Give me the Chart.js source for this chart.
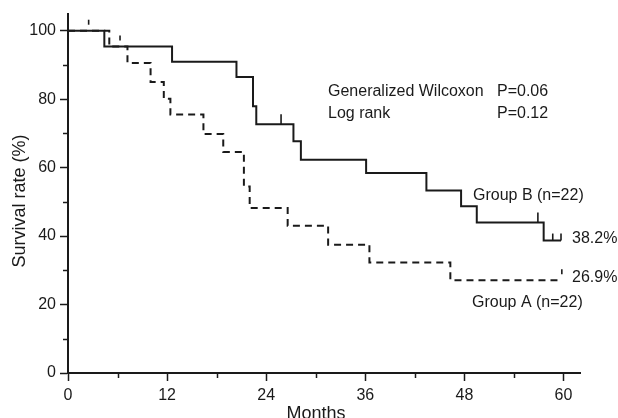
<!DOCTYPE html>
<html>
<head>
<meta charset="utf-8">
<script src="https://cdn.jsdelivr.net/npm/chart.js@4/dist/chart.umd.min.js"></script>
<style>
  html, body { margin: 0; padding: 0; background: #fff; }
  #wrap { width: 618px; height: 418px; }
</style>
</head>
<body>
<div id="wrap"><canvas id="c" width="618" height="418"></canvas></div>
<script>
// ---- Data ----
const groupBTimes = [0, 4.4, 12.6, 20.4, 22.4, 22.8, 27.3, 28.2, 36.1, 43.4, 47.6, 49.5, 57.6, 59.7];
const groupBSurv  = [100, 95.4, 90.9, 86.5, 77.9, 72.7, 67.7, 62.3, 58.4, 53.3, 48.7, 44.0, 38.7, 38.7];
const groupATimes = [0, 5.0, 7.2, 10.0, 11.6, 12.4, 16.4, 18.8, 21.3, 22.0, 26.6, 31.5, 36.5, 46.3, 59.8];
const groupASurv  = [100, 95.4, 90.6, 85.0, 80.1, 75.5, 69.8, 64.6, 54.5, 48.2, 43.0, 37.5, 32.3, 27.1, 27.1];
const censorBTimes = [25.8, 56.9, 58.7, 59.7];
const censorBSurv  = [72.7, 44.0, 38.7, 38.7];
const censorATimes = [2.5, 6.3, 59.8];
const censorASurv  = [100, 95.4, 27.1];
const xTickLabels = [0, 12, 24, 36, 48, 60];
const yTickLabels = [0, 20, 40, 60, 80, 100];
const groupBLabel = 'Group B (n=22)';
const groupALabel = 'Group A (n=22)';
const groupBFinal = '38.2%';
const groupAFinal = '26.9%';
const testNames  = ['Generalized Wilcoxon', 'Log rank'];
const testPValues = ['P=0.06', 'P=0.12'];
const xTitle = 'Months';
const yTitle = 'Survival rate (%)';

const INK = '#1a1a1a';
const FONT = '"Liberation Sans", Arial, Helvetica, sans-serif';

const toPts = (t, s) => t.map((v, i) => ({ x: v, y: s[i] }));

const decorPlugin = {
  id: 'decor',
  afterDraw(chart) {
    const ctx = chart.ctx;
    const xs = chart.scales.x, ys = chart.scales.y;
    const ca = chart.chartArea;
    ctx.save();
    // minor ticks
    ctx.strokeStyle = INK;
    ctx.lineWidth = 1.5;
    xs.ticks.forEach(t => {
      if (!xTickLabels.includes(t.value)) {
        const px = Math.round(xs.getPixelForValue(t.value)) + 0.5;
        ctx.beginPath(); ctx.moveTo(px, ca.bottom); ctx.lineTo(px, ca.bottom + 5); ctx.stroke();
      }
    });
    ys.ticks.forEach(t => {
      if (!yTickLabels.includes(t.value)) {
        const py = Math.round(ys.getPixelForValue(t.value)) + 0.5;
        ctx.beginPath(); ctx.moveTo(ca.left, py); ctx.lineTo(ca.left - 5, py); ctx.stroke();
      }
    });
    // censor marks group B (solid)
    ctx.lineWidth = 1.6;
    censorBTimes.forEach((t, i) => {
      const px = xs.getPixelForValue(t), py = ys.getPixelForValue(censorBSurv[i]);
      const h = i >= 2 ? 7 : 10;
      ctx.beginPath(); ctx.moveTo(px, py); ctx.lineTo(px, py - h); ctx.stroke();
    });
    // censor marks group A (dashed)
    ctx.setLineDash([5, 6]);
    censorATimes.forEach((t, i) => {
      const px = xs.getPixelForValue(t), py = ys.getPixelForValue(censorASurv[i]);
      ctx.beginPath(); ctx.moveTo(px, py - 11); ctx.lineTo(px, py); ctx.stroke();
    });
    ctx.setLineDash([]);
    // texts
    ctx.fillStyle = INK;
    ctx.font = '16px ' + FONT;
    ctx.textAlign = 'left';
    ctx.textBaseline = 'alphabetic';
    ctx.fillText(testNames[0], 328, 96);
    ctx.fillText(testPValues[0], 497, 96);
    ctx.fillText(testNames[1], 328, 118);
    ctx.fillText(testPValues[1], 497, 118);
    ctx.fillText(groupBLabel, 473, 200);
    ctx.fillText(groupALabel, 472, 307);
    ctx.fillText(groupBFinal, 572, 243);
    ctx.fillText(groupAFinal, 572, 281.5);
    // axis titles
    ctx.font = '18px ' + FONT;
    ctx.textAlign = 'center';
    ctx.fillText(xTitle, 316, 419);
    ctx.save();
    ctx.translate(25, 201);
    ctx.rotate(-Math.PI / 2);
    ctx.fillText(yTitle, 0, 0);
    ctx.restore();
    ctx.restore();
  }
};

new Chart(document.getElementById('c'), {
  type: 'line',
  data: {
    datasets: [
      {
        label: groupBLabel,
        data: toPts(groupBTimes, groupBSurv),
        stepped: true,
        borderColor: INK,
        borderWidth: 2,
        pointRadius: 0,
        fill: false,
      },
      {
        label: groupALabel,
        data: toPts(groupATimes, groupASurv),
        stepped: true,
        borderColor: INK,
        borderWidth: 2,
        borderDash: [7, 5],
        pointRadius: 0,
        fill: false,
      }
    ]
  },
  options: {
    responsive: false,
    animation: false,
    devicePixelRatio: 1,
    layout: { padding: { top: 13, right: 38, left: 0, bottom: 0 } },
    plugins: { legend: { display: false }, tooltip: { enabled: false } },
    scales: {
      x: {
        type: 'linear',
        min: 0, max: 62,
        afterFit: (s) => { s.height = 45; },
        border: { display: true, color: INK, width: 2 },
        grid: {
          drawOnChartArea: false, drawTicks: true, tickLength: 8, tickWidth: 1.5,
          tickColor: (c) => (c.tick && xTickLabels.includes(c.tick.value)) ? INK : 'rgba(0,0,0,0)'
        },
        ticks: {
          stepSize: 6, includeBounds: false, autoSkip: false, maxRotation: 0,
          padding: 5, color: INK, font: { family: FONT, size: 16 },
          callback: (v) => xTickLabels.includes(v) ? String(v) : ''
        }
      },
      y: {
        type: 'linear',
        min: 0, max: 105,
        afterFit: (s) => { s.width = 68; },
        border: { display: true, color: INK, width: 2 },
        grid: {
          drawOnChartArea: false, drawTicks: true, tickLength: 8, tickWidth: 1.5,
          tickColor: (c) => (c.tick && yTickLabels.includes(c.tick.value)) ? INK : 'rgba(0,0,0,0)'
        },
        ticks: {
          stepSize: 10, includeBounds: false, autoSkip: false,
          padding: 4, color: INK, font: { family: FONT, size: 16 },
          callback: (v) => yTickLabels.includes(v) ? String(v) : ''
        }
      }
    }
  },
  plugins: [decorPlugin]
});
</script>
</body>
</html>
